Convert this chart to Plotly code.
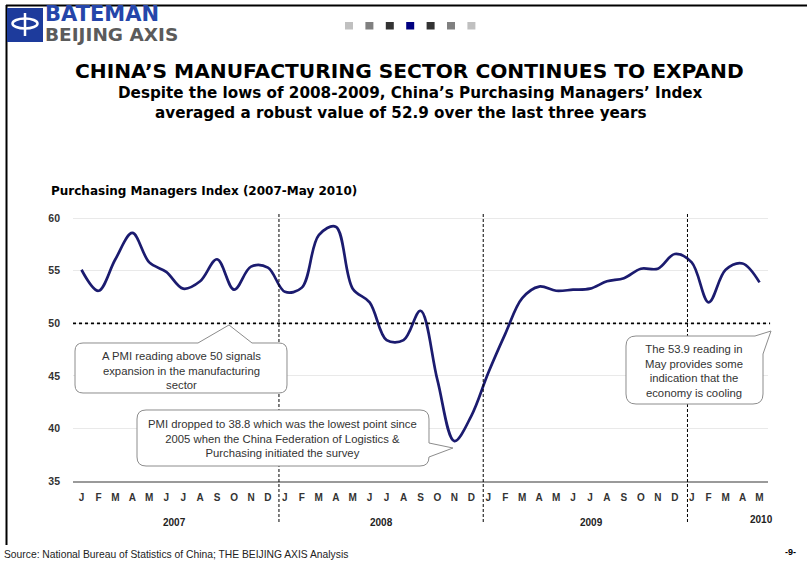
import plotly.graph_objects as go

# PMI values, Jan 2007 - May 2010
months = ['J', 'F', 'M', 'A', 'M', 'J', 'J', 'A', 'S', 'O', 'N', 'D'] * 3 + ['J', 'F', 'M', 'A', 'M']
pmi_2007 = [55.1, 53.1, 56.1, 58.6, 55.8, 54.9, 53.3, 54.0, 56.1, 53.2, 55.4, 55.3]
pmi_2008 = [53.0, 53.4, 58.4, 59.2, 53.3, 52.0, 48.4, 48.4, 51.2, 44.6, 38.8, 41.2]
pmi_2009 = [45.3, 49.0, 52.4, 53.5, 53.1, 53.2, 53.3, 54.0, 54.3, 55.2, 55.2, 56.6]
pmi_2010 = [55.8, 52.0, 55.1, 55.7, 53.9]
years = ['2007', '2008', '2009', '2010']
year_centers = [5.5, 17.7, 30.1, 40.1]
pmi = pmi_2007 + pmi_2008 + pmi_2009 + pmi_2010
xs = list(range(len(pmi)))

W, H = 807, 562
L, R, T, B = 73, 39, 213, 81
PW, PH = W - L - R, H - T - B
ARIAL = 'Liberation Sans, Arial'
WIDE = 'DejaVu Sans'


def px(x):
    return (x - L) / PW


def py(y):
    return (H - B - y) / PH


def path(cmds):
    out = []
    for c in cmds:
        if c == 'Z':
            out.append('Z')
            continue
        op, pts = c[0], c[1:]
        coords = []
        for i in range(0, len(pts), 2):
            coords.append('%.5f,%.5f' % (px(pts[i]), py(pts[i + 1])))
        out.append(op + ' ' + ' '.join(coords))
    return ' '.join(out)


fig = go.Figure()
fig.add_trace(go.Scatter(x=xs, y=pmi, mode='lines', line=dict(color='#1b1b6f', width=2.7, shape='spline', smoothing=1),
                         hoverinfo='skip', showlegend=False))

shapes = []
# page frame
shapes.append(dict(type='line', xref='paper', yref='paper', x0=px(6), x1=px(807), y0=py(5.5), y1=py(5.5), line=dict(color='black', width=2)))
shapes.append(dict(type='line', xref='paper', yref='paper', x0=px(6.5), x1=px(6.5), y0=py(5), y1=py(545), line=dict(color='black', width=2)))

# logo
shapes.append(dict(type='rect', xref='paper', yref='paper', x0=px(7), x1=px(43), y0=py(8), y1=py(42), fillcolor='#1d3b9c', line=dict(width=0)))
shapes.append(dict(type='circle', xref='paper', yref='paper', x0=px(12.5), x1=px(37.5), y0=py(18.5), y1=py(28.5), line=dict(color='white', width=2.5)))
shapes.append(dict(type='line', xref='paper', yref='paper', x0=px(25), x1=px(25), y0=py(13), y1=py(36), line=dict(color='white', width=2.5)))

# squares
sq_colors = ['#c0c0c0', '#808080', '#333333', '#000080', '#333333', '#808080', '#c0c0c0']
for i, c in enumerate(sq_colors):
    x0 = 345 + i * 20.4
    shapes.append(dict(type='rect', xref='paper', yref='paper', x0=px(x0), x1=px(x0 + 8), y0=py(22), y1=py(29.5), fillcolor=c, line=dict(width=0)))

# year separators
for xv in [11.65, 23.7, 35.75]:
    xp = (xv + 0.5) / 41
    shapes.append(dict(type='line', xref='paper', yref='paper', x0=xp, x1=xp, y0=py(522), y1=py(213),
                       line=dict(color='black', width=1, dash='3px,2px')))

# 50 line
shapes.append(dict(type='line', xref='paper', yref='y', x0=0, x1=1.003, y0=50, y1=50, line=dict(color='black', width=1.6, dash='dot')))

# callouts
box_style = dict(type='path', xref='paper', yref='paper', fillcolor='white', line=dict(color='#8c8c8c', width=1))
shapes.append(dict(path=path([('M', 83, 343), ('L', 198, 343), ('L', 229, 325), ('L', 252, 343), ('L', 279, 343),
                              ('Q', 287, 343, 287, 351), ('L', 287, 385), ('Q', 287, 393, 279, 393), ('L', 83, 393),
                              ('Q', 75, 393, 75, 385), ('L', 75, 351), ('Q', 75, 343, 83, 343), 'Z']), **box_style))
shapes.append(dict(path=path([('M', 146, 410), ('L', 420, 410), ('Q', 429, 410, 429, 419), ('L', 429, 443),
                              ('L', 453, 448), ('L', 429, 457), ('Q', 429, 466, 420, 466), ('L', 146, 466),
                              ('Q', 137, 466, 137, 457), ('L', 137, 419), ('Q', 137, 410, 146, 410), 'Z']), **box_style))
shapes.append(dict(path=path([('M', 636, 336), ('L', 755, 336), ('L', 771, 331), ('L', 763, 354), ('L', 763, 394),
                              ('Q', 763, 404, 753, 404), ('L', 636, 404), ('Q', 626, 404, 626, 394), ('L', 626, 346),
                              ('Q', 626, 336, 636, 336), 'Z']), **box_style))

ann = []


def text(x, y, s, size, color='black', xanchor='center', bold=False, family=ARIAL):
    ann.append(dict(xref='paper', yref='paper', x=px(x), y=py(y), text='<b>%s</b>' % s if bold else s, showarrow=False,
                    xanchor=xanchor, yanchor='middle', borderpad=0, font=dict(size=size, color=color, family=family)))


text(44, 14, 'BATEMAN', 21, '#2546aa', 'left', True, WIDE)
text(44, 34.5, 'BEIJING AXIS', 18.5, '#5b5b5b', 'left', True, WIDE)
text(409, 71, 'CHINA’S MANUFACTURING SECTOR CONTINUES TO EXPAND', 20.2, bold=True, family=WIDE)
text(410, 92.5, 'Despite the lows of 2008-2009, China’s Purchasing Managers’ Index', 15.2, bold=True, family=WIDE)
text(401, 113, 'averaged a robust value of 52.9 over the last three years', 15.2, bold=True, family=WIDE)
text(50, 191, 'Purchasing Managers Index (2007-May 2010)', 12, xanchor='left', bold=True, family=WIDE)
text(3, 554, 'Source: National Bureau of Statistics of China; THE BEIJING AXIS Analysis', 10.3, '#222', 'left')
text(790, 552, '-9-', 9, bold=True)

text(181, 370.5, 'A PMI reading above 50 signals<br>expansion in the manufacturing<br>sector', 11.3, '#333')
text(282, 438, 'PMI dropped to 38.8 which was the lowest point since<br>2005 when the China Federation of Logistics &<br>Purchasing initiated the survey', 11.3, '#333')
text(694, 371, 'The 53.9 reading in<br>May provides some<br>indication that the<br>economy is cooling', 11.3, '#333')

for yr, xc in zip(years, year_centers):
    ann.append(dict(xref='x', yref='paper', x=xc, y=py(522 if yr != '2010' else 519), text='<b>%s</b>' % yr, showarrow=False,
                    xanchor='center', yanchor='middle', font=dict(size=10, color='#222', family=ARIAL)))

fig.update_layout(
    width=W, height=H, margin=dict(l=L, r=R, t=T, b=B), paper_bgcolor='white', plot_bgcolor='white',
    shapes=shapes, annotations=ann, showlegend=False,
    xaxis=dict(range=[-0.5, 40.5], tickvals=xs, ticktext=['<b>%s</b>' % m for m in months], showgrid=False,
               zeroline=False, showline=True, linecolor='#9a9a9a', linewidth=1.5, ticks='', ticklabelstandoff=6,
               tickfont=dict(size=10, color='#333', family=ARIAL)),
    yaxis=dict(range=[35, 60.5], tickvals=[35, 40, 45, 50, 55, 60], ticktext=['<b>%d</b>' % v for v in [35, 40, 45, 50, 55, 60]],
               showgrid=True, gridcolor='#e9e9e9', gridwidth=1, zeroline=False, showline=False, ticks='', ticklabelstandoff=12,
               tickfont=dict(size=10.5, color='#333', family=ARIAL)),
)

fig.write_html('out.html', config={'displayModeBar': False}, post_script="document.body.style.margin='0';")
